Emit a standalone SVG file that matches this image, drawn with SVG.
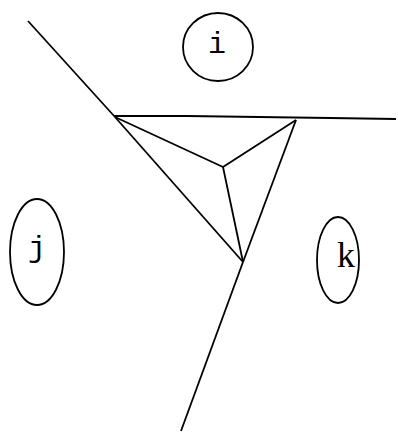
<svg xmlns="http://www.w3.org/2000/svg" width="398" height="445" viewBox="0 0 398 445">
<style>
.n{fill:none;stroke:#000;stroke-width:1.8}
.e{fill:none;stroke:#000;stroke-width:1.8}
.m{font-family:"Liberation Mono",monospace;font-size:30px;fill:#000}
.s{font-family:"Liberation Serif",serif;font-size:36px;fill:#000}
</style>
<rect width="398" height="445" fill="#fff"/>
<g id="connectors">
<line class="e" x1="28" y1="21" x2="115" y2="117"/>
<polyline class="e" points="114,116 187,116 330,118 396,119"/>
<line class="e" x1="115" y1="117" x2="223" y2="167"/>
<line class="e" x1="223" y1="167" x2="296" y2="120"/>
<line class="e" x1="223" y1="167" x2="243" y2="262"/>
<line class="e" x1="115" y1="117" x2="243" y2="262"/>
<line class="e" x1="296" y1="120" x2="243" y2="262"/>
<line class="e" x1="243" y1="262" x2="181" y2="431"/>
</g>
<g id="node-i">
<ellipse class="n" cx="218" cy="47" rx="35" ry="34"/>
<text class="m" x="217" y="53" text-anchor="middle">i</text>
</g>
<g id="node-j">
<ellipse class="n" cx="37" cy="252" rx="27" ry="53"/>
<text class="m" x="37" y="257" text-anchor="middle">j</text>
</g>
<g id="node-k">
<ellipse class="n" cx="338" cy="260" rx="21" ry="43"/>
<text class="s" x="346" y="267" text-anchor="middle">k</text>
</g>
</svg>
